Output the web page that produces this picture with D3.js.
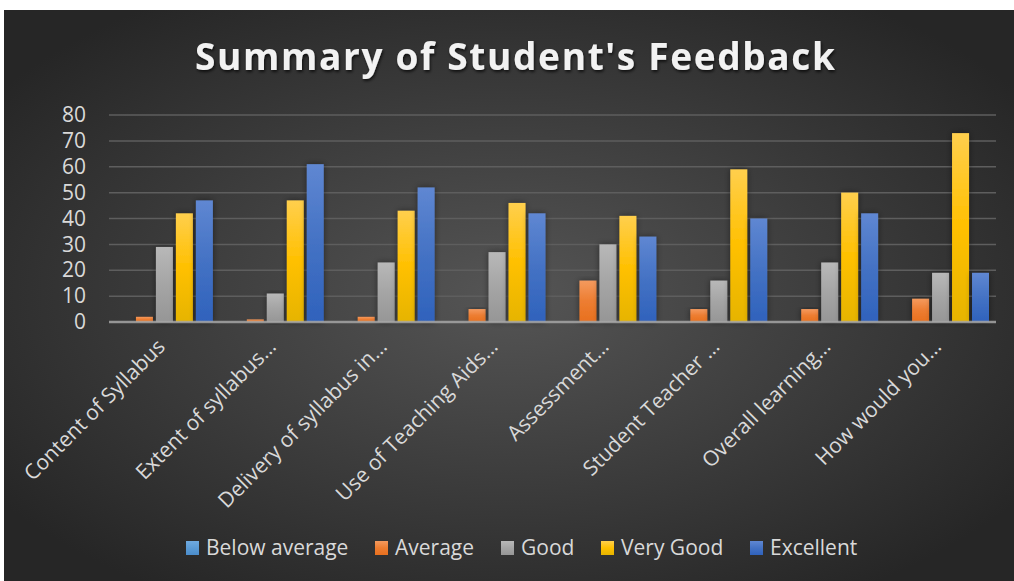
<!DOCTYPE html>
<html>
<head>
<meta charset="utf-8">
<script src="https://cdn.jsdelivr.net/npm/d3@7"></script>
<style>
  html, body { margin: 0; padding: 0; background: #fff; }
  svg { display: block; }
</style>
</head>
<body>
<svg width="1014" height="581"></svg>
<script>
// chart data
const categories = [
    "Content of Syllabus", "Extent of syllabus\u2026", "Delivery of syllabus in\u2026",
    "Use of Teaching Aids\u2026", "Assessment\u2026", "Student Teacher \u2026",
    "Overall learning\u2026", "How would you\u2026"
];
const seriesNames = ["Below average", "Average", "Good", "Very Good", "Excellent"];
const belowAverage = [0, 0, 0, 0, 0, 0, 0, 0];
const average      = [2, 1, 2, 5, 16, 5, 5, 9];
const good         = [29, 11, 23, 27, 30, 16, 23, 19];
const veryGood     = [42, 47, 43, 46, 41, 59, 50, 73];
const excellent    = [47, 61, 52, 42, 33, 40, 42, 19];
const yTicks = [0, 10, 20, 30, 40, 50, 60, 70, 80];

const seriesValues = [belowAverage, average, good, veryGood, excellent];
const colors = ["#5B9BD5", "#ED7D31", "#A5A5A5", "#FFC000", "#4472C4"];
const gradStops = [
    ["#6FAAE0", "#4A8CCB"],
    ["#F49A5E", "#E8701F"],
    ["#B8B8B8", "#969696"],
    ["#FFCF4D", "#E6B400"],
    ["#5F87D2", "#2F62BC"]
];

const svg = d3.select("svg");
const defs = svg.append("defs");

// background
const bg = defs.append("radialGradient")
    .attr("id", "bg")
    .attr("cx", "50%").attr("cy", "50%").attr("r", "62%");
bg.append("stop").attr("offset", "0%").attr("stop-color", "#555555");
bg.append("stop").attr("offset", "100%").attr("stop-color", "#262626");

gradStops.forEach(function(s, i) {
    let g = defs.append("linearGradient")
        .attr("id", "bar" + i)
        .attr("x1", 0).attr("y1", 0).attr("x2", 0).attr("y2", 1);
    g.append("stop").attr("offset", "0%").attr("stop-color", s[0]);
    g.append("stop").attr("offset", "50%").attr("stop-color", colors[i]);
    g.append("stop").attr("offset", "100%").attr("stop-color", s[1]);
});

const shadow = defs.append("filter").attr("id", "shadow")
    .attr("x", "-50%").attr("y", "-10%").attr("width", "200%").attr("height", "120%");
shadow.append("feDropShadow")
    .attr("dx", 0).attr("dy", 0).attr("stdDeviation", 3)
    .attr("flood-color", "#000").attr("flood-opacity", 0.45);

const titleShadow = defs.append("filter").attr("id", "tshadow");
titleShadow.append("feDropShadow")
    .attr("dx", 1).attr("dy", 2).attr("stdDeviation", 1.5)
    .attr("flood-color", "#000").attr("flood-opacity", 0.7);

svg.append("rect")
    .attr("x", 4).attr("y", 10)
    .attr("width", 1010).attr("height", 571)
    .attr("fill", "url(#bg)");

// title
svg.append("text")
    .attr("x", 515).attr("y", 70)
    .attr("text-anchor", "middle")
    .attr("font-family", "Open Sans")
    .attr("font-weight", "bold")
    .attr("font-size", 37)
    .attr("fill", "#f2f2f2")
    .attr("textLength", 640)
    .attr("lengthAdjust", "spacing")
    .attr("filter", "url(#tshadow)")
    .text("Summary of Student's Feedback");

// scales
const x0 = d3.scaleBand()
    .domain(categories)
    .range([109, 996]);

const x1 = d3.scaleBand()
    .domain(seriesNames)
    .range([7, x0.bandwidth() - 7])
    .paddingInner(0.15);

const y = d3.scaleLinear()
    .domain([0, 80])
    .range([322, 115]);

// gridlines
svg.append("g")
    .selectAll("line")
    .data(yTicks.slice(1))
    .enter()
    .append("line")
    .attr("x1", 109).attr("x2", 996)
    .attr("y1", d => y(d)).attr("y2", d => y(d))
    .attr("stroke", "#5e5e5e")
    .attr("stroke-width", 1.5);

// y axis labels
const yAxis = svg.append("g")
    .attr("transform", "translate(94,0)")
    .call(d3.axisLeft(y).tickValues(yTicks).tickSize(0).tickPadding(0));
yAxis.select(".domain").remove();
yAxis.selectAll("text")
    .attr("font-family", "Open Sans")
    .attr("font-size", 21)
    .attr("fill", "#d9d9d9")
    .attr("x", -8);

// bars
const groups = svg.append("g")
    .selectAll("g")
    .data(categories)
    .enter()
    .append("g")
    .attr("transform", d => `translate(${x0(d)},0)`);

groups.selectAll("rect")
    .data((c, ci) => seriesNames.map((s, si) => ({ series: s, si: si, value: seriesValues[si][ci] })))
    .enter()
    .filter(d => d.value > 0)
    .append("rect")
    .attr("x", d => x1(d.series))
    .attr("width", x1.bandwidth())
    .attr("y", d => y(d.value))
    .attr("height", d => y(0) - y(d.value))
    .attr("fill", d => `url(#bar${d.si})`)
    .attr("filter", "url(#shadow)");

// baseline
svg.append("line")
    .attr("x1", 109).attr("x2", 996)
    .attr("y1", y(0)).attr("y2", y(0))
    .attr("stroke", "#a6a6a6")
    .attr("stroke-width", 2.5)
    .attr("stroke-opacity", 0.85);

// x labels, rotated
svg.append("g")
    .selectAll("text")
    .data(categories)
    .enter()
    .append("text")
    .attr("transform", d => `translate(${x0(d) + x0.bandwidth() / 2 + 2},${348}) rotate(-45)`)
    .attr("text-anchor", "end")
    .attr("font-family", "Open Sans")
    .attr("font-size", 21)
    .attr("fill", "#d9d9d9")
    .text(d => d);

// legend
const legendX = [186, 375, 501, 601, 750];
const legend = svg.append("g")
    .selectAll("g")
    .data(seriesNames)
    .enter()
    .append("g")
    .attr("transform", (d, i) => `translate(${legendX[i]},541)`);

legend.append("rect")
    .attr("width", 13).attr("height", 14)
    .attr("fill", (d, i) => `url(#bar${i})`);

legend.append("text")
    .attr("x", 20).attr("y", 14)
    .attr("font-family", "Open Sans")
    .attr("font-size", 21)
    .attr("fill", "#d9d9d9")
    .text(d => d);
</script>
</body>
</html>
